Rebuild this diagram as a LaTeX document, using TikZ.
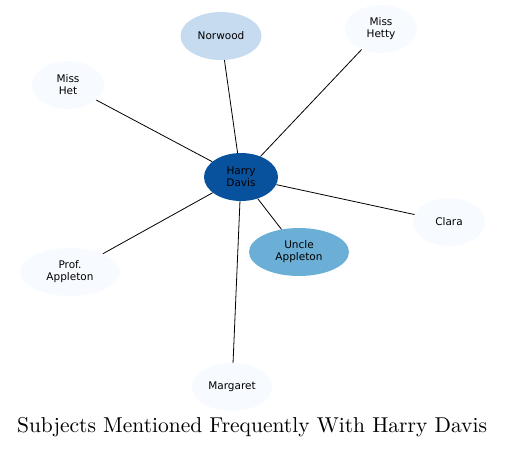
\documentclass[tikz,border=0pt]{standalone}
\usepackage{fontspec}
\newfontfamily\labelfont{DejaVu Sans}
\newfontfamily\titlefont{lmroman10-regular.otf}
\usepackage{tikz}
\usetikzlibrary{shapes.geometric}

\definecolor{hubblue}{RGB}{8,81,156}
\definecolor{midblue}{RGB}{107,174,214}
\definecolor{lightblue}{RGB}{198,219,239}
\definecolor{paleblue}{RGB}{247,251,255}

\begin{document}
\begin{tikzpicture}[
    x=1pt, y=-1pt,
    font=\labelfont\fontsize{10.5}{12}\selectfont,
    % subject nodes, shaded by frequency
    subj/.style={ellipse, draw=none, fill=paleblue, minimum width=72pt, minimum height=48pt, inner sep=0pt, align=center},
    hub/.style={subj, fill=hubblue, minimum width=74pt},
    edge/.style={draw, line width=0.8pt},
]
\useasboundingbox (0,0) rectangle (505,448);

% -------------------------
% Central subject
% -------------------------
\node[hub] (harry) at (241,177) {Harry\\Davis};

% -------------------------
% Co-mentioned subjects
% -------------------------
\node[subj, fill=lightblue, minimum width=81pt] (norwood) at (221,36) {Norwood};
\node[subj] (hetty) at (381,29) {Miss\\Hetty};
\node[subj] (het) at (68,85) {Miss\\Het};
\node[subj] (clara) at (449,222) {Clara};
\node[subj, fill=midblue, minimum width=100pt] (uncle) at (299,252) {Uncle\\Appleton};
\node[subj, minimum width=100pt] (prof) at (70,272) {Prof.\\Appleton};
\node[subj, minimum width=80pt] (margaret) at (232,387) {Margaret};

\foreach \s in {norwood,hetty,het,clara,uncle,prof,margaret}{
  \draw[edge] (harry) -- (\s);
}

% title
\node[font=\titlefont\fontsize{21.5}{26}\selectfont] (title) at (252,427) {Subjects Mentioned Frequently With Harry Davis};

\end{tikzpicture}
\end{document}
